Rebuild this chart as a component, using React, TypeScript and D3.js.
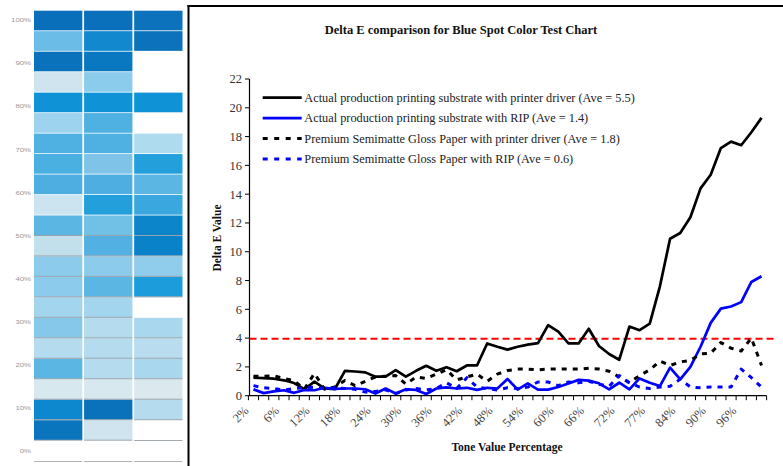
import React from 'react';
import * as d3 from 'd3';

const categories = ['2%','4%','5%','6%','8%','10%','12%','14%','16%','18%','20%','22%','24%','26%','28%','30%','32%','34%','36%','38%','40%','42%','44%','46%','48%','50%','52%','54%','56%','58%','60%','62%','64%','66%','68%','70%','72%','74%','76%','77%','80%','82%','84%','86%','88%','90%','92%','94%','96%','98%','100%'];

const actualDriver = [1.25,1.22,1.18,1.07,0.88,0.45,0.98,0.5,0.45,1.72,
  1.68,1.62,1.32,1.32,1.78,1.32,1.73,2.08,1.73,1.98,
  1.7,2.1,2.1,3.63,3.4,3.2,3.4,3.55,3.65,4.9,
  4.45,3.63,3.63,4.65,3.45,2.9,2.5,4.8,4.55,5.0,
  7.6,10.9,11.3,12.4,14.4,15.35,17.2,17.65,17.4,18.3,
  19.3];
const actualRip = [0.44,0.18,0.3,0.38,0.2,0.4,0.38,0.55,0.48,0.5,
  0.5,0.45,0.15,0.5,0.15,0.45,0.4,0.12,0.5,0.58,
  0.5,0.55,0.4,0.55,0.5,1.16,0.42,0.85,0.42,0.42,
  0.6,0.85,1.1,1.05,0.86,0.44,0.9,0.44,1.2,0.9,
  0.67,1.95,1.14,2.0,3.4,5.06,6.05,6.2,6.5,7.9,
  8.3];
const premiumDriver = [1.35,1.35,1.38,1.2,1.05,0.45,1.55,0.45,0.6,1.05,
  0.7,1.0,1.3,1.35,1.4,0.8,1.3,1.2,1.5,1.8,
  1.1,1.3,1.5,1.0,1.5,1.75,1.85,1.85,1.8,1.85,
  1.85,1.85,1.85,1.9,1.85,1.7,1.3,0.9,1.4,1.8,
  2.4,2.1,2.35,2.45,2.9,2.95,3.7,3.3,3.1,4.0,
  2.1];
const premiumRip = [0.7,0.55,0.5,0.4,0.5,0.55,0.6,0.5,0.55,0.5,
  0.45,0.25,0.3,0.4,0.15,0.4,0.5,0.4,0.5,0.9,
  0.5,1.25,0.6,0.5,0.4,0.55,0.5,0.6,0.95,0.95,
  0.7,0.95,0.9,1.0,0.8,0.65,1.4,0.9,0.6,0.5,
  0.6,0.65,1.15,0.6,0.55,0.6,0.6,0.6,1.85,1.25,
  0.6];

const seriesNames = [
  'Actual production printing substrate with printer driver (Ave = 5.5)',
  'Actual production printing substrate with RIP (Ave = 1.4)',
  'Premium Semimatte Gloss Paper with printer driver (Ave = 1.8)',
  'Premium Semimatte Gloss Paper with RIP (Ave = 0.6)',
];
const seriesColors = ['#000000', '#0000ff', '#000000', '#0000ff'];
const seriesDashed = [false, false, true, true];
const threshold = 3.95;
const yTicks = [0,2,4,6,8,10,12,14,16,18,20,22];

const swatchLabels = ['100%','90%','80%','70%','60%','50%','40%','30%','20%','10%','0%'];
const swatchColors = [
  ['#0a6fba','#0a70bb','#0b72bb'],
  ['#6bbce6','#1289cf','#0b72bb'],
  ['#0a72bb','#0a78c0',null],
  ['#cfe4ef','#8bcbec',null],
  ['#0f93d6','#0f93d6','#0f93d6'],
  ['#9dd3ee','#4fb0e2',null],
  ['#4fb0e2','#4fb0e2','#afdbef'],
  ['#4aafe1','#7fc4e8','#23a0dc'],
  ['#4eaee1','#4faee1','#5cb6e4'],
  ['#cbe4ef','#23a0dc','#3aa8df'],
  ['#5cb6e4','#71c0e6','#0d85ca'],
  ['#c2e0ec','#52b1e2','#0a82c9'],
  ['#8ccbeb','#8ccbeb','#90cceb'],
  ['#8ccbeb','#5cb6e4','#1d9cdb'],
  ['#a4d5ee','#a4d5ee',null],
  ['#86c8ea','#b5dbee','#a8d7ee'],
  ['#b4dcee','#b4dcee','#b9ddee'],
  ['#5cb6e4','#b4dcee','#a8d7ee'],
  ['#d8e8ef','#d8e8ef','#dbe9ef'],
  ['#0d88cf','#0a72bb','#b4dcee'],
  ['#0a74bd','#d0e4ef',null],
];

export default function App() {
  const W = 783, H = 466;
  const x = d3.scaleBand<string>().domain(categories).range([248.4, 766.6]).padding(0);
  const bw = x.bandwidth();
  const cx = (i: number) => (x(categories[i]) as number) + bw / 2;
  const y = d3.scaleLinear().domain([0, 22]).range([395.7, 79]);
  const data = [actualDriver, actualRip, premiumDriver, premiumRip];
  const line = d3.line<number>().x((_, i) => cx(i)).y((d) => y(d));
  const serif = '"Liberation Serif", "Times New Roman", serif';

  const sx = d3.scaleBand<number>().domain([0,1,2]).range([34, 182.5]).paddingInner(0.035);
  const sy = d3.scaleBand<number>().domain(d3.range(swatchColors.length)).range([10.7, 440.7]);
  const labelY = d3.scaleLinear().domain([0, 10]).range([20.5, 451.5]);

  return (
    <svg width={W} height={H} style={{ position: 'absolute', left: 0, top: 0, background: '#fff' }}>
      <rect x={0} y={0} width={W} height={H} fill="#fff" />
      <g>
        {swatchColors.map((row, r) => row.map((c, k) => c ? (
          <rect key={`s${r}-${k}`} x={sx(k)} y={(sy(r) as number)} width={sx.bandwidth()} height={sy.bandwidth() - 0.8} fill={c} />
        ) : null))}
        {swatchColors.map((row, r) => r >= 10 ? row.map((c, k) => c ? (
          <line key={`b${r}-${k}`} x1={sx(k)} x2={(sx(k) as number) + sx.bandwidth()} y1={(sy(r) as number) + sy.bandwidth() - 0.5} y2={(sy(r) as number) + sy.bandwidth() - 0.5} stroke="#7d8d98" strokeWidth={0.8} />
        ) : null) : null)}
        <line x1={sx(2)} x2={(sx(2) as number) + sx.bandwidth()} y1={440.5} y2={440.5} stroke="#8a949a" strokeWidth={0.8} />
        {[0,1,2].map((k) => (
          <line key={`g${k}`} x1={sx(k)} x2={(sx(k) as number) + sx.bandwidth()} y1={461.5} y2={461.5} stroke="#9aa0a4" strokeWidth={0.8} />
        ))}
        {swatchLabels.map((t, i) => (
          <text key={t} transform={`translate(31,${labelY(i)}) scale(1.2,0.75)`} dy="0.35em" textAnchor="end" fontSize={6.5} fill="#999" fontFamily='"Liberation Sans", sans-serif'>{t}</text>
        ))}
      </g>
      <line x1={188.5} x2={188.5} y1={5} y2={H} stroke="#000" strokeWidth={2} />
      <line x1={187.5} x2={W} y1={6} y2={6} stroke="#000" strokeWidth={2} />
      <text x={461} y={33.5} textAnchor="middle" fontFamily={serif} fontWeight="bold" fontSize={12.5} fill="#111">Delta E comparison for Blue Spot Color Test Chart</text>
      <line x1={249.5} x2={249.5} y1={y(22)} y2={y(0)} stroke="#000" strokeWidth={1.2} />
      {yTicks.map((t) => (
        <g key={`yt${t}`}>
          <line x1={245} x2={249.5} y1={y(t)} y2={y(t)} stroke="#000" strokeWidth={1} />
          <text x={242} y={y(t)} dy="0.35em" textAnchor="end" fontFamily={serif} fontSize={12.5} fill="#333">{t}</text>
        </g>
      ))}
      <text transform={`translate(217,238) rotate(-90)`} textAnchor="middle" dy="0.35em" fontFamily={serif} fontWeight="bold" fontSize={11.5} fill="#111">Delta E Value</text>
      <line x1={249} x2={766.6} y1={y(0)} y2={y(0)} stroke="#000" strokeWidth={1.2} />
      {d3.range(categories.length + 1).map((i) => (
        <line key={`xt${i}`} x1={248.4 + i * bw} x2={248.4 + i * bw} y1={y(0)} y2={y(0) + 4.5} stroke="#000" strokeWidth={1} />
      ))}
      {categories.map((c, i) => i % 3 === 0 ? (
        <text key={`xl${c}`} transform={`translate(${cx(i) - 4},${411.5}) rotate(-45)`} textAnchor="end" fontFamily={serif} fontSize={12.5} fill="#444">{c}</text>
      ) : null)}
      <text x={507} y={447} dy="0.35em" textAnchor="middle" fontFamily={serif} fontWeight="bold" fontSize={11.5} fill="#111">Tone Value Percentage</text>
      <line x1={249.5} x2={774} y1={y(threshold)} y2={y(threshold)} stroke="#ff0000" strokeWidth={2} strokeDasharray="7,4" />
      {data.map((d, k) => (
        <path key={`p${k}`} d={line(d) || ''} fill="none" stroke={seriesColors[k]} strokeWidth={seriesDashed[k] ? 3 : 2.7} strokeDasharray={seriesDashed[k] ? '5,6' : undefined} strokeLinejoin="round" />
      ))}
      {seriesNames.map((n, k) => {
        const ly = 97.7 + k * 20.4;
        return (
          <g key={`lg${k}`}>
            <line x1={262.7} x2={301.7} y1={ly} y2={ly} stroke={seriesColors[k]} strokeWidth={seriesDashed[k] ? 3 : 2.7} strokeDasharray={seriesDashed[k] ? '5,6.5' : undefined} />
            <text x={304.3} y={ly} dy="0.35em" fontFamily={serif} fontSize={12.3} fill="#222">{n}</text>
          </g>
        );
      })}
    </svg>
  );
}
